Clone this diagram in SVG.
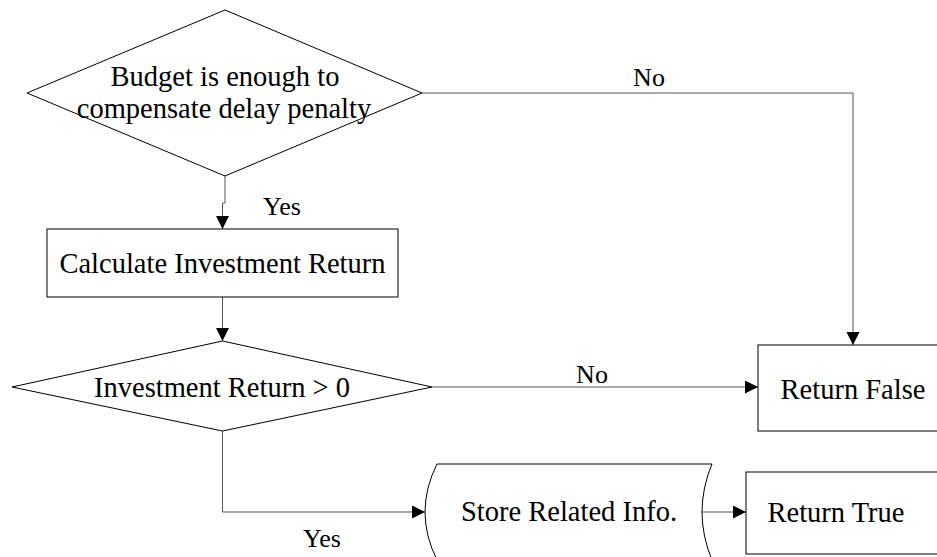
<svg xmlns="http://www.w3.org/2000/svg" width="937" height="557" viewBox="0 0 937 557">
  <style>
    .shape { fill: #ffffff; stroke: #000000; stroke-width: 1; }
    .node-text { font-family: "Liberation Serif", "Times New Roman", serif; font-size: 28.5px; fill: #000000; text-anchor: middle; }
    .label { font-family: "Liberation Serif", "Times New Roman", serif; font-size: 26px; fill: #000000; text-anchor: middle; }
    .conn { fill: none; stroke: #555555; stroke-width: 1; marker-end: url(#arrow); }
  </style>
  <defs>
    <marker id="arrow" markerWidth="14" markerHeight="14" refX="13" refY="6.5" orient="auto" markerUnits="userSpaceOnUse">
      <path d="M0,0 L13,6.5 L0,13 Z" fill="#000000"/>
    </marker>
  </defs>
  <rect width="937" height="557" fill="#ffffff"/>

  <g id="connectors">
    <path class="conn" d="M225,176 L225,203 L222.5,203 L222.5,229"/>
    <path class="conn" d="M222.5,297 L222.5,341"/>
    <path class="conn" d="M422,93 L853,93 L853,345"/>
    <path class="conn" d="M432,387 L758,387"/>
    <path class="conn" d="M222.5,431 L222.5,512 L425,512"/>
    <path class="conn" d="M702,512 L746,512"/>
    <text class="label" x="649" y="86">No</text>
    <text class="label" x="282" y="215">Yes</text>
    <text class="label" x="592" y="383">No</text>
    <text class="label" x="322" y="547">Yes</text>
  </g>

  <g id="budget-check">
    <polygon class="shape" points="225,10 422,93 225,176 27,93"/>
    <text class="node-text" x="225" y="86">Budget is enough to</text>
    <text class="node-text" x="224" y="118">compensate delay penalty</text>
  </g>

  <g id="calc-return">
    <rect class="shape" x="47" y="229" width="351" height="68"/>
    <text class="node-text" x="222.5" y="273">Calculate Investment Return</text>
  </g>

  <g id="return-check">
    <polygon class="shape" points="222.5,341 432,387 222.5,431 12,387"/>
    <text class="node-text" x="222" y="397">Investment Return &gt; 0</text>
  </g>

  <g id="return-false">
    <rect class="shape" x="758" y="345" width="190" height="86"/>
    <text class="node-text" x="853" y="399">Return False</text>
  </g>

  <g id="store-info">
    <path class="shape" d="M437,464 L712,464 Q692,512 712,560 L437,560 Q413,512 437,464 Z"/>
    <text class="node-text" x="569" y="521">Store Related Info.</text>
  </g>

  <g id="return-true">
    <rect class="shape" x="746" y="472" width="200" height="82"/>
    <text class="node-text" x="836" y="522">Return True</text>
  </g>
</svg>
